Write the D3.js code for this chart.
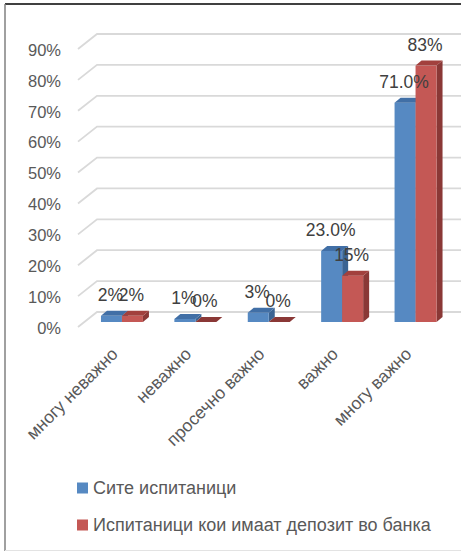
<!DOCTYPE html>
<html>
<head>
<meta charset="utf-8">
<script src="https://cdn.jsdelivr.net/npm/d3@7"></script>
<style>
  html, body { margin: 0; padding: 0; background: #fff; }
  svg { display: block; font-family: "Liberation Sans", Arial, sans-serif; }
</style>
</head>
<body>
<svg id="chart" width="461" height="552"></svg>
<script>
// Importance ratings, share of respondents per answer
const categories = ["многу неважно", "неважно", "просечно важно", "важно", "многу важно"];
const seriesNames = ["Сите испитаници", "Испитаници кои имаат депозит во банка"];
const allRespondents = [2, 1, 3, 23, 71];
const depositHolders = [2, 0, 0, 15, 83];
const allLabels = ["2%", "1%", "3%", "23.0%", "71.0%"];
const depositLabels = ["2%", "0%", "0%", "15%", "83%"];
const yTicks = [0, 10, 20, 30, 40, 50, 60, 70, 80, 90];

const frontColors = ["#5689C2", "#C45855"];
const topColors = ["#416FA6", "#A2403D"];
const sideColors = ["#3B6493", "#8A3836"];
const textColor = "#595959";

const svg = d3.select("#chart");
svg.append("rect").attr("width", 461).attr("height", 552).attr("fill", "#fff");

// Value scale along the front edge of the floor
const y = d3.scaleLinear().domain([0, 90]).range([327, 49]);
// Back wall offset and bar depth offset for the 3-D look
const wall = { dx: 19, dy: -15 };
const depth = { dx: 6, dy: -5 };
const barBase = -5; // bars sit slightly behind the front edge

const x = d3.scaleBand().domain(categories).range([85.25, 452.25])
  .paddingInner(0.428).paddingOuter(0.214);
const xs = d3.scaleBand().domain([0, 1]).range([0, x.bandwidth()]);

// Frame
svg.append("line").attr("x1", 5).attr("y1", 4).attr("x2", 461).attr("y2", 4)
  .attr("stroke", "#404040").attr("stroke-width", 2);
svg.append("line").attr("x1", 5).attr("y1", 4).attr("x2", 5).attr("y2", 551)
  .attr("stroke", "#808080").attr("stroke-width", 1.5);
svg.append("line").attr("x1", 5).attr("y1", 550.5).attr("x2", 461).attr("y2", 550.5)
  .attr("stroke", "#E3E3E3").attr("stroke-width", 1);

// Gridlines: short diagonal on the floor side, then across the back wall
const xFront = 78;
svg.append("g").selectAll("path").data(yTicks).join("path")
  .attr("d", t => `M${xFront},${y(t)} L${xFront + wall.dx},${y(t) + wall.dy} L461,${y(t) + wall.dy}`)
  .attr("fill", "none").attr("stroke", "#D9D9D9").attr("stroke-width", 1.8);

// Y tick labels
svg.append("g").selectAll("text").data(yTicks).join("text")
  .attr("x", 61).attr("y", t => y(t) + 1).attr("dy", "0.35em")
  .attr("text-anchor", "end").attr("fill", textColor).attr("font-size", 16.5)
  .text(t => t + "%");

// Bars
const series = [allRespondents, depositHolders];
const labels = [allLabels, depositLabels];
const bars = [];
series.forEach((vals, s) => {
  vals.forEach((v, i) => {
    bars.push({ s, i, v, label: labels[s][i], x0: x(categories[i]) + xs(s), w: xs.bandwidth() });
  });
});

const barG = svg.append("g");
// draw each category's blue then red so red side faces overlap correctly
bars.slice().sort((a, b) => a.i - b.i || a.s - b.s).forEach(b => {
  const x0 = b.x0, x1 = b.x0 + b.w;
  const yb = y(0) + barBase;
  const yt = y(b.v) + barBase;
  const g = barG.append("g");
  // side face
  g.append("path")
    .attr("d", `M${x1},${yt} L${x1 + depth.dx},${yt + depth.dy} L${x1 + depth.dx},${yb + depth.dy} L${x1},${yb} Z`)
    .attr("fill", sideColors[b.s]);
  // front face
  if (b.v > 0) {
    g.append("rect").attr("x", x0).attr("y", yt).attr("width", b.w).attr("height", yb - yt)
      .attr("fill", frontColors[b.s]);
  }
  // top face
  g.append("path")
    .attr("d", `M${x0},${yt} L${x0 + depth.dx},${yt + depth.dy} L${x1 + depth.dx},${yt + depth.dy} L${x1},${yt} Z`)
    .attr("fill", b.v > 0 ? topColors[b.s] : sideColors[b.s]);
});

// Data labels (blue series first, red drawn over it)
svg.append("g").selectAll("text").data(bars.slice().sort((a, b) => a.s - b.s || a.i - b.i)).join("text")
  .attr("x", b => b.x0 + b.w / 2 - 1)
  .attr("y", b => y(b.v) + barBase - 15)
  .attr("text-anchor", "middle").attr("fill", "#404040").attr("font-size", 17.5)
  .text(b => b.label);

// Category labels, rotated
svg.append("g").selectAll("text").data(categories).join("text")
  .attr("transform", c => `translate(${x(c) + x.bandwidth() / 2 - 3},${355}) rotate(-45)`)
  .attr("text-anchor", "end")
  .attr("fill", textColor).attr("font-size", 17.5)
  .text(c => c);

// Legend
const legend = svg.append("g").selectAll("g").data(seriesNames).join("g")
  .attr("transform", (d, i) => `translate(77,${488 + i * 37})`);
legend.append("rect").attr("x", 0).attr("y", -5.5).attr("width", 11).attr("height", 11)
  .attr("fill", (d, i) => frontColors[i]);
legend.append("text").attr("x", 16).attr("y", 0).attr("dy", "0.35em")
  .attr("fill", textColor).attr("font-size", 18)
  .text(d => d);
</script>
</body>
</html>
